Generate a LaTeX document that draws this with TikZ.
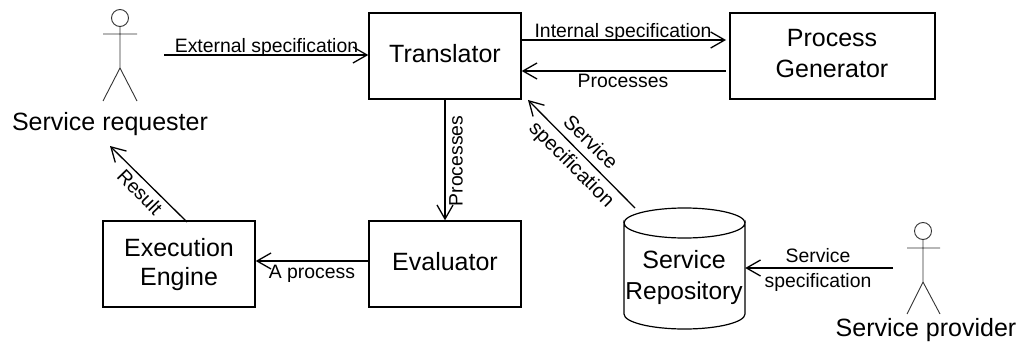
\documentclass[tikz,border=0pt]{standalone}
\usepackage{fontspec}
\setmainfont{Liberation Sans}
\usetikzlibrary{arrows.meta}
\tikzset{
  x=1pt,y=-1pt,
  box/.style={draw,line width=1.4pt,inner sep=0pt,align=center,font=\fontsize{25}{30}\selectfont},
  big/.style={inner sep=0pt,anchor=base,font=\fontsize{25}{30}\selectfont},
  small/.style={inner sep=0pt,anchor=base,font=\fontsize{19.4}{23}\selectfont},
  slab/.style={inner sep=0pt,font=\fontsize{19.4}{23}\selectfont},
  dlab/.style={inner sep=0pt,font=\fontsize{20.2}{25}\selectfont},
  conn/.style={line width=1.3pt,-{Straight Barb[length=14pt,width=16pt,line width=1.3pt]}},
  actor/.style={line width=0.9pt,black!80},
}
\begin{document}
\begin{tikzpicture}
\useasboundingbox (0,0) rectangle (1019,342);
% boxes
\node[box,minimum width=152pt,minimum height=86pt] (trans) at (445,56) {};
\node[big] (transt) at (445,63) {Translator};
\node[box,minimum width=205pt,minimum height=86pt] (gen) at (832.5,56) {};
\node[big] (gent1) at (832,47) {Process};
\node[big] (gent2) at (832,78) {Generator};
\node[box,minimum width=152pt,minimum height=86pt] (exec) at (179,264) {};
\node[big] (exect1) at (179,256) {Execution};
\node[big] (exect2) at (179,285) {Engine};
\node[box,minimum width=152pt,minimum height=86pt] (eval) at (445,264) {};
\node[big] (evalt) at (445,270) {Evaluator};
% repository
\draw[line width=1.2pt] (624,223) arc[start angle=180,end angle=0,x radius=60.5,y radius=15]
  -- (745,314) arc[start angle=0,end angle=180,x radius=60.5,y radius=15] -- cycle;
\draw[line width=1.2pt] (624,223) arc[start angle=180,end angle=360,x radius=60.5,y radius=15];
\node[inner sep=0pt,minimum width=121pt,minimum height=1pt] (repo) at (684.5,268) {};
\node[big] (repot1) at (684,268) {Service};
\node[big,font=\fontsize{24.5}{30}\selectfont] (repot2) at (684,299) {Repository};
% actors
\draw[actor] (120,18) circle[radius=8.5];
\draw[actor] (103,34) -- (137,34) (120,26.5) -- (120,68) (103,101) -- (120,68) -- (137,101);
\draw[actor] (923,231) circle[radius=8.5];
\draw[actor] (907,248) -- (940,248) (923,239.5) -- (923,282) (907,314) -- (923,282) -- (940,314);
\node[big] (req) at (110,131) {Service requester};
\node[big] (prov) at (926,336) {Service provider};
% free ends
\coordinate (extstart) at (164,55);
\coordinate (provend) at (893,268);
\coordinate (repotop) at (635,208);
\coordinate (transcorner) at (528,100);
\coordinate (reqbelow) at (110,146);
\coordinate (execup) at (187,222);
% connectors
\draw[conn] (extstart) -- (trans.west |- extstart);
\draw[conn] (trans.east |- 0,40) -- (726,40);
\draw[conn] (726,71) -- (trans.east |- 0,71);
\draw[conn] (445,100) -- (eval.north);
\draw[conn] (eval.west |- 0,261) -- (exec.east |- 0,261);
\draw[conn] (provend) -- (repo.east);
\draw[conn] (repotop) -- (transcorner);
\draw[conn] (execup) -- (reqbelow);
% labels
\node[small] (l1) at (266.5,53) {External specification};
\node[small] (l2) at (623,38) {Internal specification};
\node[small] (l3) at (623,88) {Processes};
\node[small] (l4) at (312,278) {A process};
\node[small] (l5) at (818,262) {Service};
\node[small] (l6) at (818,287) {specification};
\node[slab,rotate=90] (l7) at (456,161) {Processes};
\node[slab,rotate=-46] (l8) at (140,192) {Result};
\node[dlab,rotate=-45] (l9) at (591,142) {Service};
\node[dlab,rotate=-45] (l10) at (571,165) {specification};
\end{tikzpicture}
\end{document}
